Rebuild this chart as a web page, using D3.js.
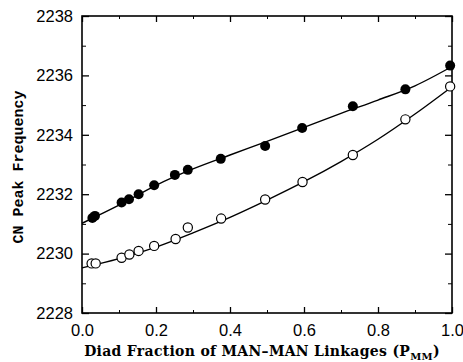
<!DOCTYPE html>
<meta charset="utf-8">
<style>
body { margin: 0; background: #fff; }
.axis path, .axis line { stroke: #000; }
.axis text { font-family: "Liberation Sans", Arial, sans-serif; font-size: 16.5px; fill: #000; }
</style>
<svg width="463" height="362"></svg>
<script src="https://cdn.jsdelivr.net/npm/d3@7"></script>
<script>

// measured points, filled circles
var filledX = [0.028, 0.035, 0.107, 0.127, 0.153, 0.195, 0.251, 0.286, 0.375, 0.495, 0.595, 0.732, 0.874, 0.995];
var filledY = [2231.20, 2231.27, 2231.72, 2231.83, 2232.00, 2232.30, 2232.65, 2232.82, 2233.19, 2233.62, 2234.23, 2234.96, 2235.53, 2236.33];

// measured points, open circles
var openX = [0.026, 0.037, 0.107, 0.128, 0.153, 0.195, 0.253, 0.286, 0.376, 0.495, 0.596, 0.732, 0.874, 0.995];
var openY = [2229.67, 2229.67, 2229.86, 2229.97, 2230.09, 2230.26, 2230.49, 2230.88, 2231.18, 2231.82, 2232.41, 2233.32, 2234.52, 2235.63];

// fitted curves
var curveX = [0, 0.1, 0.2, 0.3, 0.4, 0.5, 0.6, 0.7, 0.8, 0.9, 1.0];
var filledFit = [2231.02, 2231.63, 2232.30, 2232.85, 2233.32, 2233.78, 2234.25, 2234.72, 2235.17, 2235.65, 2236.30];
var openFit = [2229.52, 2229.83, 2230.22, 2230.70, 2231.22, 2231.80, 2232.42, 2233.10, 2233.85, 2234.70, 2235.62];

var xMajor = [0, 0.2, 0.4, 0.6, 0.8, 1.0];
var xMinor = [0.1, 0.3, 0.5, 0.7, 0.9];
var yMajor = [2228, 2230, 2232, 2234, 2236, 2238];
var yMinor = [2229, 2231, 2233, 2235, 2237];

var svg = d3.select("svg");

var x = d3.scaleLinear().domain([0, 1]).range([82, 452]);
var y = d3.scaleLinear().domain([2228, 2238]).range([313, 16]);

// frame
svg.append("rect")
    .attr("x", x(0)).attr("y", y(2238))
    .attr("width", x(1) - x(0)).attr("height", y(2228) - y(2238))
    .attr("fill", "none").attr("stroke", "#000").attr("stroke-width", 1.6);

function drawAxis(axis, tx, ty, minor) {
  var g = svg.append("g").attr("class", "axis")
      .attr("transform", "translate(" + tx + "," + ty + ")")
      .call(axis);
  g.select(".domain").remove();
  g.selectAll("line").attr("stroke-width", minor ? 1 : 1.3);
  return g;
}

var fmtX = d3.format(".1f");

drawAxis(d3.axisBottom(x).tickValues(xMajor).tickSize(-6).tickPadding(11).tickFormat(fmtX), 0, y(2228));
drawAxis(d3.axisBottom(x).tickValues(xMinor).tickSize(-3).tickFormat(""), 0, y(2228), true);
drawAxis(d3.axisTop(x).tickValues(xMajor).tickSize(-6).tickFormat(""), 0, y(2238));
drawAxis(d3.axisTop(x).tickValues(xMinor).tickSize(-3).tickFormat(""), 0, y(2238), true);

drawAxis(d3.axisLeft(y).tickValues(yMajor).tickSize(-7).tickPadding(9).tickFormat(d3.format("d")), x(0), 0);
drawAxis(d3.axisLeft(y).tickValues(yMinor).tickSize(-4).tickFormat(""), x(0), 0, true);
drawAxis(d3.axisRight(y).tickValues(yMajor).tickSize(-7).tickFormat(""), x(1), 0);
drawAxis(d3.axisRight(y).tickValues(yMinor).tickSize(-4).tickFormat(""), x(1), 0, true);

// curves
var line = d3.line()
    .x(function(d) { return x(d[0]); })
    .y(function(d) { return y(d[1]); })
    .curve(d3.curveMonotoneX);

svg.append("path")
    .datum(d3.zip(curveX, filledFit))
    .attr("d", line)
    .attr("fill", "none").attr("stroke", "#000").attr("stroke-width", 1.4);

svg.append("path")
    .datum(d3.zip(curveX, openFit))
    .attr("d", line)
    .attr("fill", "none").attr("stroke", "#000").attr("stroke-width", 1.4);

// points
svg.append("g").selectAll("circle")
    .data(d3.zip(openX, openY))
    .enter().append("circle")
      .attr("cx", function(d) { return x(d[0]); })
      .attr("cy", function(d) { return y(d[1]); })
      .attr("r", 4.6)
      .attr("fill", "#fff").attr("stroke", "#000").attr("stroke-width", 1.2);

svg.append("g").selectAll("circle")
    .data(d3.zip(filledX, filledY))
    .enter().append("circle")
      .attr("cx", function(d) { return x(d[0]); })
      .attr("cy", function(d) { return y(d[1]); })
      .attr("r", 5)
      .attr("fill", "#000");

// axis titles
var xt = svg.append("text")
    .attr("x", 262).attr("y", 356)
    .attr("text-anchor", "middle")
    .style("font-family", "'DejaVu Serif', serif")
    .style("font-weight", "bold")
    .style("font-size", "14px")
    .style("letter-spacing", "0.3px");
xt.append("tspan").text("Diad Fraction of MAN\u2013MAN Linkages (P");
xt.append("tspan").attr("dy", 4).style("font-size", "10px").text("MM");
xt.append("tspan").attr("dy", -4).text(")");

svg.append("text")
    .attr("transform", "translate(23,167) rotate(-90)")
    .attr("text-anchor", "middle")
    .style("font-family", "'Liberation Mono', 'Courier New', monospace")
    .style("font-weight", "bold")
    .style("font-size", "15px")
    .text("CN Peak Frequency");

</script>
